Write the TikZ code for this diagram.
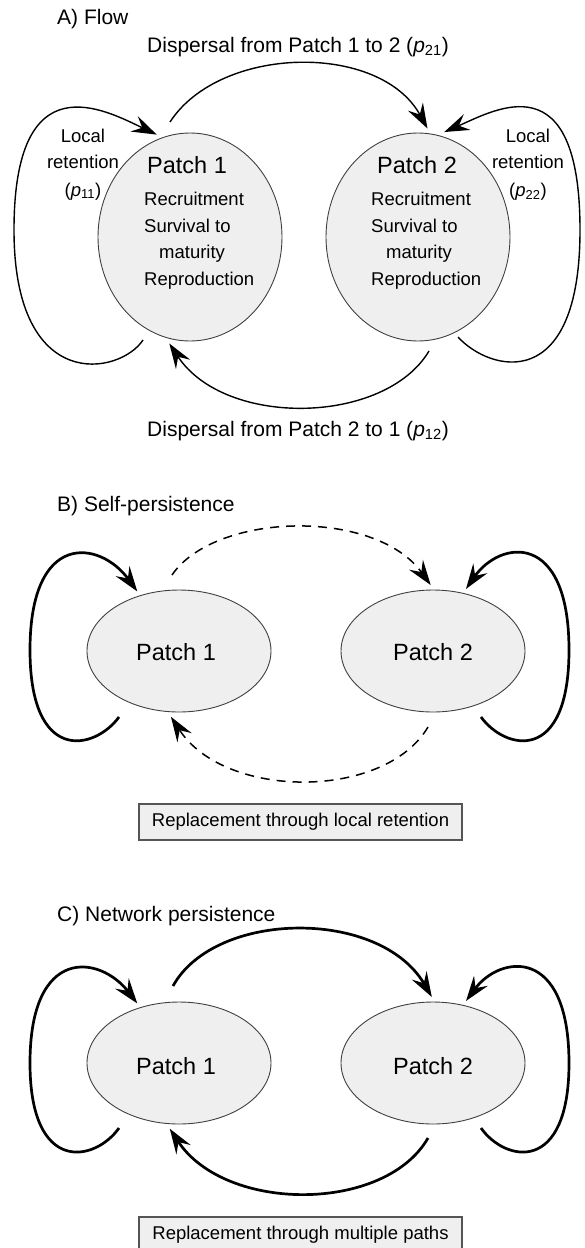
\documentclass[tikz,border=0pt]{standalone}
\usepackage{fontspec}
\setmainfont{Liberation Sans}
\usetikzlibrary{arrows.meta,shapes.geometric}
\definecolor{patchfill}{HTML}{EFEFEF}
\definecolor{patchdraw}{HTML}{404040}
\definecolor{boxdraw}{HTML}{555555}
\begin{document}
\begin{tikzpicture}[x=1pt,y=-1pt,
  patch/.style={ellipse, draw=patchdraw, fill=patchfill, line width=0.9pt, inner sep=0pt, outer sep=5pt, minimum width=184pt},
  tallpatch/.style={patch, minimum height=208pt},
  flatpatch/.style={patch, minimum height=122pt},
  ttl/.style={font=\fontsize{21}{25}\selectfont, inner sep=0pt},
  big/.style={font=\fontsize{23.5}{28}\selectfont, inner sep=0pt},
  small/.style={font=\fontsize{18.5}{22}\selectfont, inner sep=0pt},
  caption/.style={draw=boxdraw, fill=patchfill, line width=1.5pt, minimum width=323pt, minimum height=36pt, inner sep=0pt, font=\fontsize{18.5}{22}\selectfont},
  tipstyle/.style={-{Stealth[length=25pt,width=17pt,inset=9pt]}},
  thinarr/.style={tipstyle, line width=1.4pt},
  thickarr/.style={tipstyle, line width=2.7pt},
  dasharr/.style={tipstyle, line width=1.5pt, dash pattern=on 9pt off 7pt}]
\useasboundingbox (0,0) rectangle (585,1248);
\clip (0,0) rectangle (585,1248);

% ---------------- A) Flow ----------------
\node[ttl, anchor=base west] (tA) at (57,24) {A) Flow};
\node[ttl, anchor=base] (d21) at (298,52) {Dispersal from Patch 1 to 2 (\textit{p}\textsubscript{21})};
\node[ttl, anchor=base] (d12) at (298,436) {Dispersal from Patch 2 to 1 (\textit{p}\textsubscript{12})};

\node[tallpatch] (p1) at (190,237) {};
\node[tallpatch] (p2) at (418,237) {};

\node[big, anchor=base] (p1t) at (187,173) {Patch 1};
\node[small, anchor=base west] (p1a) at (144,205) {Recruitment};
\node[small, anchor=base west] (p1b) at (144,232) {Survival to};
\node[small, anchor=base west] (p1c) at (159,258) {maturity};
\node[small, anchor=base west] (p1d) at (144,285) {Reproduction};

\node[big, anchor=base] (p2t) at (417,173) {Patch 2};
\node[small, anchor=base west] (p2a) at (371,205) {Recruitment};
\node[small, anchor=base west] (p2b) at (371,232) {Survival to};
\node[small, anchor=base west] (p2c) at (386,258) {maturity};
\node[small, anchor=base west] (p2d) at (371,285) {Reproduction};

\node[small, anchor=base] (l1a) at (83,142) {Local};
\node[small, anchor=base] (l1b) at (83,168) {retention};
\node[small, anchor=base] (l1c) at (83,196) {(\textit{p}\textsubscript{11})};
\node[small, anchor=base] (l2a) at (528,142) {Local};
\node[small, anchor=base] (l2b) at (528,168) {retention};
\node[small, anchor=base] (l2c) at (528,196) {(\textit{p}\textsubscript{22})};

\coordinate (a12s) at (170,122);
\coordinate (a21s) at (429,351);
\coordinate (a11s) at (143,340);
\coordinate (a22s) at (458,337);

\draw[thinarr] (a12s) .. controls (220,45) and (380,42) .. (p2.85);
\draw[thinarr] (a21s) .. controls (385,425) and (225,428) .. (p1.259);
\draw[thinarr] (a11s) .. controls (120,375) and (14,395) .. (14,230)
                      .. controls (14,60) and (105,110) .. (p1.108);
\draw[thinarr] (a22s) .. controls (490,372) and (580,395) .. (580,230)
                      .. controls (580,60) and (495,110) .. (p2.76);

% ---------------- B) Self-persistence ----------------
\node[ttl, anchor=base west] (tB) at (57,511) {B) Self-persistence};
\node[flatpatch] (p3) at (179,651) {};
\node[flatpatch] (p4) at (433,651) {};
\node[big, anchor=base] (p3t) at (176,660) {Patch 1};
\node[big, anchor=base] (p4t) at (433,660) {Patch 2};

\coordinate (b12s) at (172,575);
\coordinate (b21s) at (428,727);
\coordinate (b11s) at (119,717);
\coordinate (b22s) at (481,717);

\draw[dasharr] (b12s) .. controls (215,512) and (375,508) .. (p4.92);
\draw[dasharr] (b21s) .. controls (385,800) and (225,800) .. (p3.263);
\draw[thickarr] (b11s) .. controls (95,750) and (30,765) .. (30,650)
                       .. controls (30,530) and (100,540) .. (p3.125);
\draw[thickarr] (b22s) .. controls (505,750) and (569,765) .. (569,650)
                       .. controls (569,530) and (500,540) .. (p4.62);

\node[caption] (capB) at (300.5,822) {Replacement through local retention};

% ---------------- C) Network persistence ----------------
\node[ttl, anchor=base west] (tC) at (57,921) {C) Network persistence};
\node[flatpatch] (p5) at (179,1063) {};
\node[flatpatch] (p6) at (433,1063) {};
\node[big, anchor=base] (p5t) at (176,1074) {Patch 1};
\node[big, anchor=base] (p6t) at (433,1074) {Patch 2};

\coordinate (c12s) at (173,986);
\coordinate (c21s) at (428,1138);
\coordinate (c11s) at (119,1128);
\coordinate (c22s) at (481,1128);

\draw[thickarr] (c12s) .. controls (215,910) and (380,908) .. (p6.91);
\draw[thickarr] (c21s) .. controls (385,1213) and (225,1213) .. (p5.262);
\draw[thickarr] (c11s) .. controls (95,1162) and (30,1175) .. (30,1063)
                       .. controls (30,945) and (100,955) .. (p5.125);
\draw[thickarr] (c22s) .. controls (505,1162) and (569,1175) .. (569,1063)
                       .. controls (569,945) and (500,955) .. (p6.62);

\node[caption] (capC) at (300.5,1235) {Replacement through multiple paths};
\end{tikzpicture}
\end{document}
